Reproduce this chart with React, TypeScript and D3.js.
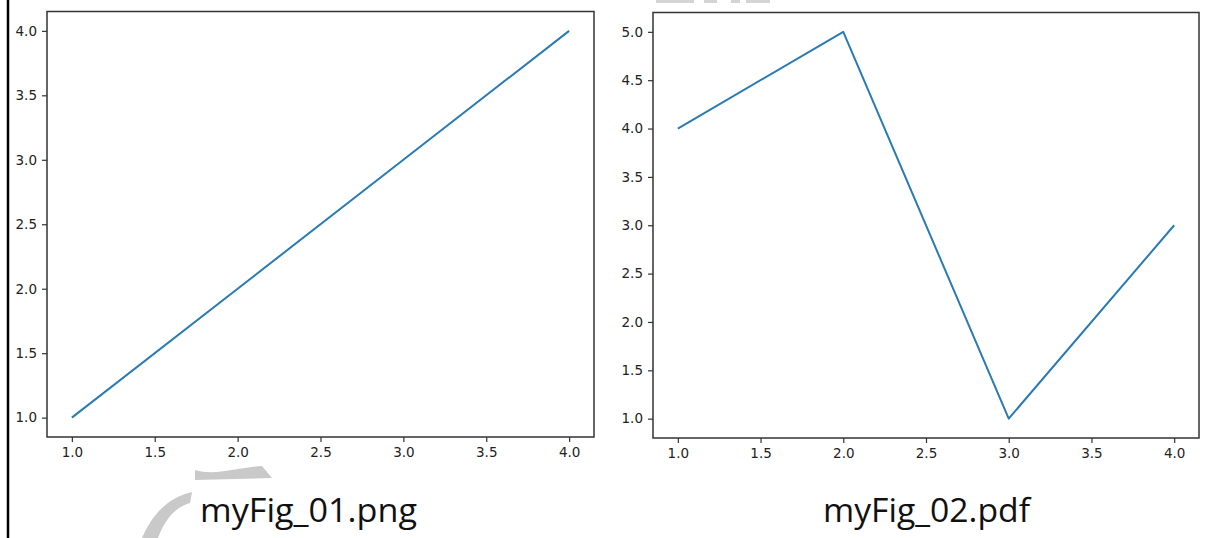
import React, { useEffect, useRef } from 'react';
import * as d3 from 'd3';

// datos de las dos figuras
const xValues = [1, 2, 3, 4];
const fig1Values = [1, 2, 3, 4];
const fig2Values = [4, 5, 1, 3];
const xTicks = [1.0, 1.5, 2.0, 2.5, 3.0, 3.5, 4.0];
const fig1YTicks = [1.0, 1.5, 2.0, 2.5, 3.0, 3.5, 4.0];
const fig2YTicks = [1.0, 1.5, 2.0, 2.5, 3.0, 3.5, 4.0, 4.5, 5.0];
const captions = ['myFig_01.png', 'myFig_02.pdf'];

const WIDTH = 1210;
const HEIGHT = 538;
const LINE = '#2a7ab3';
const SPINE = '#333333';
const TEXT = '#222222';

type Panel = {
  left: number; right: number; top: number; bottom: number;
  xDomain: [number, number]; yDomain: [number, number];
  values: number[]; yTicks: number[];
  caption: string; capX: number; capW: number;
};

const panels: Panel[] = [
  { left: 47, right: 594, top: 11.5, bottom: 437, xDomain: [0.85, 4.15], yDomain: [0.85, 4.15],
    values: fig1Values, yTicks: fig1YTicks, caption: captions[0], capX: 200, capW: 217 },
  { left: 653, right: 1199, top: 12.5, bottom: 438, xDomain: [0.85, 4.15], yDomain: [0.8, 5.2],
    values: fig2Values, yTicks: fig2YTicks, caption: captions[1], capX: 823, capW: 207 },
];

const App = () => {
  const svgRef = useRef<SVGSVGElement>(null);

  useEffect(() => {
    const svg = d3.select(svgRef.current);
    svg.selectAll('*').remove();

    svg.append('rect').attr('width', WIDTH).attr('height', HEIGHT).attr('fill', '#fff');

    // marca de agua (restos grises)
    const wm = svg.append('g').attr('fill', '#c9c9c9');
    wm.append('path')
      .attr('d', 'M142,538 C152,515 167,498 192,492 L190,503 C173,508 164,522 158,538 Z');
    wm.append('path')
      .attr('d', 'M195,470 C215,476 235,468 262,466 L272,478 L195,480 Z');
    [[656, 38], [704, 13], [731, 9], [746, 24]].forEach(([x, w]) => {
      wm.append('rect').attr('x', x).attr('y', 0).attr('width', w).attr('height', 3).attr('fill', '#d4d4d4');
    });

    // borde izquierdo negro
    svg.append('line')
      .attr('x1', 8).attr('x2', 8).attr('y1', 0).attr('y2', HEIGHT)
      .attr('stroke', '#000').attr('stroke-width', 2.5);

    panels.forEach(p => {
      const x = d3.scaleLinear().domain(p.xDomain).range([p.left, p.right]);
      const y = d3.scaleLinear().domain(p.yDomain).range([p.bottom, p.top]);
      const g = svg.append('g');

      const line = d3.line<number>()
        .x((_, i) => x(xValues[i]))
        .y(d => y(d));

      g.append('path')
        .datum(p.values)
        .attr('d', line)
        .attr('fill', 'none')
        .attr('stroke', LINE)
        .attr('stroke-width', 2)
        .attr('stroke-linejoin', 'round');

      // ejes
      const xAxis = g.append('g')
        .attr('transform', `translate(0,${p.bottom})`)
        .call(d3.axisBottom(x).tickValues(xTicks).tickFormat(d3.format('.1f')).tickSize(5).tickPadding(5).tickSizeOuter(0));
      const yAxis = g.append('g')
        .attr('transform', `translate(${p.left},0)`)
        .call(d3.axisLeft(y).tickValues(p.yTicks).tickFormat(d3.format('.1f')).tickSize(5).tickPadding(5).tickSizeOuter(0));

      [xAxis, yAxis].forEach(a => {
        a.attr('font-size', 13.5).attr('font-family', '"DejaVu Sans", sans-serif');
        a.select('.domain').remove();
        a.selectAll('line').attr('stroke', SPINE).attr('stroke-width', 1.2);
        a.selectAll('text')
          .attr('fill', TEXT)
          .attr('font-size', 13.5)
          .attr('font-family', '"DejaVu Sans", sans-serif');
      });

      // marco
      g.append('rect')
        .attr('x', p.left).attr('y', p.top)
        .attr('width', p.right - p.left).attr('height', p.bottom - p.top)
        .attr('fill', 'none').attr('stroke', SPINE).attr('stroke-width', 1.5);

      // leyenda inferior
      g.append('text')
        .attr('x', p.capX).attr('y', 522)
        .attr('textLength', p.capW)
        .attr('lengthAdjust', 'spacingAndGlyphs')
        .attr('fill', '#111')
        .attr('font-family', '"Open Sans", sans-serif')
        .attr('font-size', 32)
        .text(p.caption);
    });
  }, []);

  return (
    <div style={{ width: WIDTH, height: HEIGHT, position: 'absolute', left: 0, top: 0, overflow: 'hidden' }}>
      <svg ref={svgRef} width={WIDTH} height={HEIGHT} style={{ display: 'block' }} />
    </div>
  );
};

export default App;
